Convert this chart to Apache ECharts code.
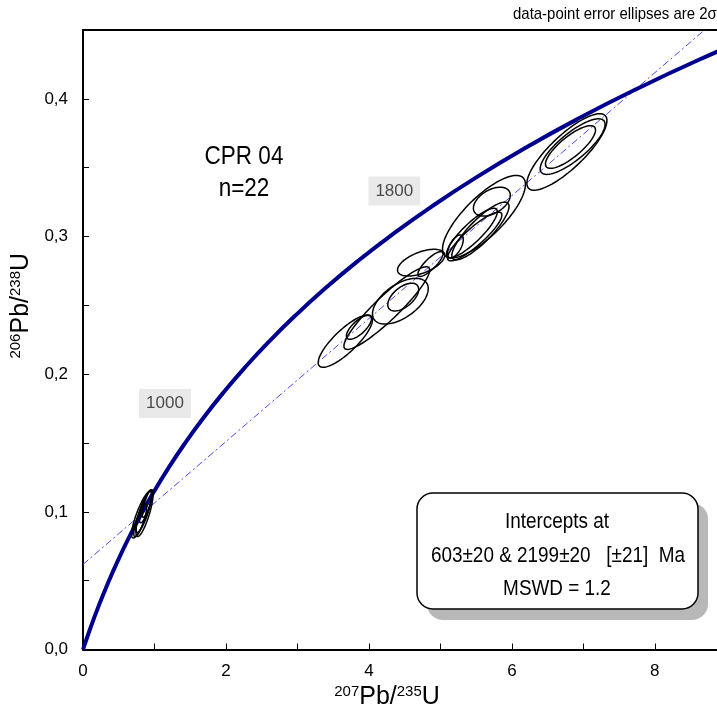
<!DOCTYPE html>
<html><head><meta charset="utf-8">
<script src="https://cdn.jsdelivr.net/npm/echarts@6/dist/echarts.min.js"></script>
<style>html,body{margin:0;padding:0;background:#fff;overflow:hidden}#c{width:717px;height:715px}</style>
</head><body><div id="c"></div>
<script>
// Concordia curve points (207Pb/235U, 206Pb/238U), 0–2400 Ma every 100 Ma
const concordiaX = [0, 0.10350, 0.21771, 0.34374, 0.48281, 0.63628, 0.80563, 0.99251, 1.19873, 1.42629, 1.67741, 1.95452, 2.26030, 2.59774, 2.97009, 3.38099, 3.83441, 4.33477, 4.88690, 5.49618, 6.16853, 6.91045, 7.72916, 8.63261, 9.62957];
const concordiaY = [0, 0.015633, 0.031511, 0.047637, 0.064016, 0.080650, 0.097544, 0.114702, 0.132133, 0.149828, 0.167800, 0.186061, 0.204603, 0.223435, 0.242562, 0.261987, 0.281716, 0.301753, 0.322105, 0.342774, 0.363766, 0.385086, 0.406741, 0.428731, 0.451069];
// Age labels on concordia
const ageLabels = ['1000', '1800'];
const ageLabelX = [1.67741, 4.88690];
const ageLabelY = [0.167800, 0.322105];
// Discordia line
const discordiaX = [0, 8.87];
const discordiaY = [0.0618, 0.4578];
// Error ellipses: centre, half-widths (2σ), correlation
const ellipseX   = [0.82, 0.85, 0.80, 0.88, 0.86, 0.90, 3.67, 3.86, 4.44, 4.48, 4.73, 4.86, 4.25, 5.61, 5.72, 5.44, 5.48, 5.21, 5.56, 6.77, 6.85, 6.82];
const ellipseY   = [0.098, 0.100, 0.094, 0.104, 0.099, 0.106, 0.224, 0.234, 0.253, 0.256, 0.281, 0.280, 0.248, 0.3144, 0.3253, 0.3025, 0.300, 0.2928, 0.304, 0.3614, 0.3653, 0.365];
const ellipseSx  = [0.14, 0.11, 0.09, 0.09, 0.12, 0.07, 0.38, 0.175, 0.39, 0.216, 0.33, 0.175, 0.60, 0.58, 0.258, 0.356, 0.38, 0.11, 0.40, 0.56, 0.454, 0.35];
const ellipseSy  = [0.017, 0.015, 0.012, 0.012, 0.017, 0.010, 0.019, 0.0087, 0.0166, 0.0101, 0.0097, 0.009, 0.030, 0.030, 0.0105, 0.018, 0.0177, 0.0083, 0.021, 0.0278, 0.0202, 0.0155];
const ellipseRho = [0.84, 0.82, 0.80, 0.82, 0.80, 0.80, 0.82, 0.72, 0.55, 0.55, 0.55, 0.82, 0.92, 0.78, 0.45, 0.86, 0.88, 0.60, 0.85, 0.82, 0.80, 0.80];

const F = "'Liberation Sans',Arial,sans-serif";
const chart = echarts.init(document.getElementById('c'), null, {renderer: 'canvas'});

const concData = concordiaX.map((x, i) => [x, concordiaY[i]]);
const discData = discordiaX.map((x, i) => [x, discordiaY[i]]);
const labData = ageLabels.map((t, i) => ({value: [ageLabelX[i], ageLabelY[i]], name: t}));
const ellData = ellipseX.map((x, i) => [x, ellipseY[i], ellipseSx[i], ellipseSy[i], ellipseRho[i]]);

function renderEllipse(params, api) {
  const cx = api.value(0), cy = api.value(1), sx = api.value(2), sy = api.value(3), r = api.value(4);
  const k = Math.sqrt(1 - r * r);
  const pts = [];
  for (let i = 0; i < 90; i++) {
    const t = i / 90 * 2 * Math.PI;
    pts.push(api.coord([cx + sx * Math.cos(t), cy + sy * (r * Math.cos(t) + k * Math.sin(t))]));
  }
  return {type: 'polygon', shape: {points: pts}, style: {fill: 'none', stroke: '#000', lineWidth: 1.5}};
}

function txt(x, y, s, size, sx, extra) {
  return Object.assign({type: 'text', x: x, y: y, scaleX: sx, z: 12,
    style: {text: s, font: size + 'px ' + F, fill: '#000', align: 'center', verticalAlign: 'middle'}}, extra || {});
}

chart.setOption({
  animation: false,
  backgroundColor: '#fff',
  grid: {left: 82, top: 30, right: 0, bottom: 63, containLabel: false},
  xAxis: [{
    type: 'value', min: 0, max: 8.87, interval: 1,
    axisLine: {show: true, lineStyle: {color: '#000', width: 2}},
    axisTick: {show: true, inside: true, length: 6, lineStyle: {color: '#000', width: 1}},
    splitLine: {show: false},
    axisLabel: {
      color: '#000', fontSize: 17, fontFamily: F, margin: 13, showMaxLabel: false,
      formatter: v => (Math.abs(v - Math.round(v)) < 1e-6 && Math.round(v) % 2 === 0) ? String(Math.round(v)) : ''
    },
    name: '{s|207}{b|Pb/}{s|235}{b|U}',
    nameLocation: 'middle', nameGap: 35,
    nameTextStyle: {
      padding: [0, 26, 0, 0],
      rich: {
        s: {fontSize: 15, fontFamily: F, color: '#000', verticalAlign: 'top', lineHeight: 26},
        b: {fontSize: 25, fontFamily: F, color: '#000', lineHeight: 26}
      }
    }
  }, {
    type: 'value', position: 'top', min: 0, max: 8.87,
    axisLine: {show: true, lineStyle: {color: '#000', width: 2}},
    axisTick: {show: false}, axisLabel: {show: false}, splitLine: {show: false}
  }],
  yAxis: {
    type: 'value', min: 0, max: 0.45, interval: 0.05,
    axisLine: {show: true, lineStyle: {color: '#000', width: 2}},
    axisTick: {show: true, inside: true, length: 6, lineStyle: {color: '#000', width: 1}},
    splitLine: {show: false},
    axisLabel: {
      color: '#000', fontSize: 17, fontFamily: F, margin: 15,
      formatter: v => (Math.abs(v * 10 - Math.round(v * 10)) < 1e-6) ? v.toFixed(1).replace('.', ',') : ''
    },
    name: '{s|206}{b|Pb/}{s|238}{b|U}',
    nameLocation: 'middle', nameGap: 27, nameRotate: 90,
    nameTextStyle: {
      padding: [0, 0, 0, 68],
      rich: {
        s: {fontSize: 15, fontFamily: F, color: '#000', verticalAlign: 'top', lineHeight: 26},
        b: {fontSize: 25, fontFamily: F, color: '#000', lineHeight: 26}
      }
    }
  },
  series: [
    {
      type: 'line', data: discData, symbol: 'none', silent: true, z: 2,
      lineStyle: {color: '#4a4ae8', width: 1, type: [7, 3, 2, 3]}
    },
    {
      type: 'line', data: concData, smooth: true, symbol: 'none', silent: true, z: 3,
      lineStyle: {color: '#00008c', width: 4}
    },
    {
      type: 'custom', data: ellData, renderItem: renderEllipse, z: 4, silent: true,
      encode: {x: 0, y: 1}, clip: true
    },
    {
      type: 'scatter', data: labData, symbolSize: 0, z: 5, silent: true,
      label: {
        show: true, position: 'inside', offset: [-38, -15],
        formatter: p => p.name,
        color: '#222', fontSize: 17, fontFamily: F,
        backgroundColor: '#e3e3e3', padding: [7, 7, 5, 7]
      }
    }
  ],
  graphic: [
    {type: 'text', x: 513, y: 14, scaleX: 0.88, style: {text: 'data-point error ellipses are 2σ', font: '17px ' + F, fill: '#000', align: 'left', verticalAlign: 'middle'}},
    txt(244, 157, 'CPR 04', 25, 0.9),
    txt(244, 189, 'n=22', 25, 0.9),
    {type: 'rect', shape: {x: 427, y: 503, width: 281, height: 117, r: 16}, style: {fill: '#b8b8b8', stroke: null}, z: 10},
    {type: 'rect', shape: {x: 417, y: 493, width: 281, height: 116, r: 16}, style: {fill: '#fff', stroke: '#000', lineWidth: 1.5}, z: 11},
    txt(557, 522, 'Intercepts at', 22, 0.86),
    txt(558, 556, '603±20 & 2199±20   [±21]  Ma', 22, 0.86),
    txt(557, 589, 'MSWD = 1.2', 22, 0.86)
  ]
});
</script>
</body></html>
